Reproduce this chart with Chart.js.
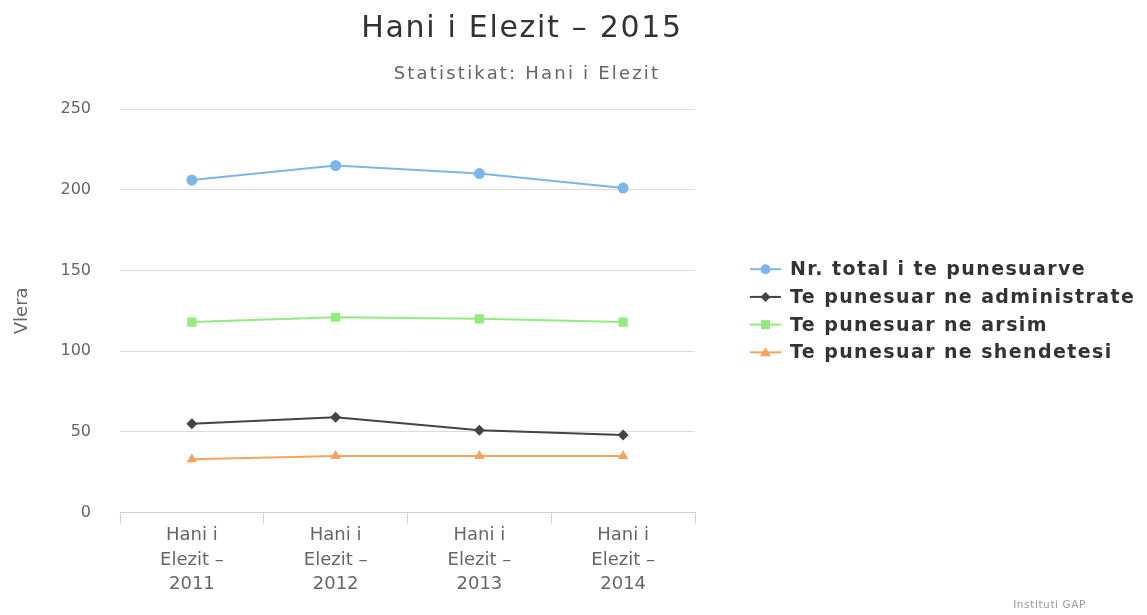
<!DOCTYPE html>
<html>
<head>
<meta charset="utf-8">
<title>Hani i Elezit - 2015</title>
<script src="https://cdn.jsdelivr.net/npm/chart.js@4"></script>
<style>
  html, body { margin: 0; padding: 0; background: #fff; }
  #wrap { width: 1147px; height: 615px; }
</style>
</head>
<body>
<div id="wrap"><canvas id="canvas" width="1147" height="615"></canvas></div>
<script>
// categories (x axis), one array of lines per tick
const categories = [
    ['Hani i', 'Elezit –', '2011'],
    ['Hani i', 'Elezit –', '2012'],
    ['Hani i', 'Elezit –', '2013'],
    ['Hani i', 'Elezit –', '2014']
];

// series values
const totalEmployed = [206, 215, 210, 201];
const adminEmployed = [55, 59, 51, 48];
const educationEmployed = [118, 121, 120, 118];
const healthEmployed = [33, 35, 35, 35];

const seriesNames = [
    'Nr. total i te punesuarve',
    'Te punesuar ne administrate',
    'Te punesuar ne arsim',
    'Te punesuar ne shendetesi'
];

const yTicks = [0, 50, 100, 150, 200, 250];

const titleText = 'Hani i Elezit – 2015';
const subtitleText = 'Statistikat: Hani i Elezit';
const creditText = 'Instituti GAP';

const FONT = '"DejaVu Sans", "Liberation Sans", sans-serif';

// marker shape, same look as the point styles of the datasets
function drawMarker(g, style, cx, cy, color) {
    g.fillStyle = color;
    g.beginPath();
    if (style === 'circle') {
        g.arc(cx, cy, 5, 0, Math.PI * 2);
    } else if (style === 'rectRot') {
        g.moveTo(cx, cy - 5); g.lineTo(cx + 5, cy); g.lineTo(cx, cy + 5); g.lineTo(cx - 5, cy);
    } else if (style === 'rect') {
        g.rect(cx - 4.5, cy - 4.5, 9, 9);
    } else {
        g.moveTo(cx, cy - 5); g.lineTo(cx + 5.5, cy + 4); g.lineTo(cx - 5.5, cy + 4);
    }
    g.closePath();
    g.fill();
}

// legend on the right, built from the datasets (the built-in one is limited in width)
const legendPlugin = {
    id: 'sideLegend',
    afterDraw(chart) {
        let ctx = chart.ctx;
        let area = chart.chartArea;
        let sets = chart.data.datasets;
        let step = 27.7;
        let y0 = (area.top + area.bottom) / 2 - step * (sets.length - 1) / 2;
        let x0 = area.right + 55;
        ctx.save();
        ctx.font = 'bold 19px ' + FONT;
        ctx.letterSpacing = '1.4px';
        ctx.textBaseline = 'middle';
        ctx.textAlign = 'left';
        sets.forEach((ds, i) => {
            let y = y0 + i * step;
            ctx.strokeStyle = ds.borderColor;
            ctx.lineWidth = 2;
            ctx.beginPath();
            ctx.moveTo(x0, y);
            ctx.lineTo(x0 + 31, y);
            ctx.stroke();
            drawMarker(ctx, ds.pointStyle, x0 + 15.5, y, ds.borderColor);
            ctx.fillStyle = '#333333';
            ctx.fillText(ds.label, x0 + 40, y + 1);
        });
        ctx.restore();
    }
};

// title, subtitle and credit text drawn on the canvas
const headerPlugin = {
    id: 'header',
    afterDraw(chart) {
        let ctx = chart.ctx;
        ctx.save();
        ctx.textAlign = 'center';
        ctx.textBaseline = 'middle';
        ctx.fillStyle = '#333333';
        ctx.font = '30px ' + FONT;
        ctx.letterSpacing = '1.7px';
        ctx.fillText(titleText, 522, 29);
        ctx.fillStyle = '#666666';
        ctx.font = '18px ' + FONT;
        ctx.letterSpacing = '2.2px';
        ctx.fillText(subtitleText, 527, 74);
        ctx.fillStyle = '#999999';
        ctx.font = '10.5px ' + FONT;
        ctx.letterSpacing = '0.6px';
        ctx.textAlign = 'right';
        ctx.fillText(creditText, 1086, 605);
        ctx.restore();
    }
};

const colors = ['#7cb5ec', '#434348', '#90ed7d', '#f7a35c'];
const styles = ['circle', 'rectRot', 'rect', 'triangle'];
const radii = [5.5, 5.5, 6.5, 6];
const values = [totalEmployed, adminEmployed, educationEmployed, healthEmployed];

let datasets = [];
for (let i = 0; i < values.length; i++) {
    datasets.push({
        label: seriesNames[i],
        data: values[i],
        borderColor: colors[i],
        backgroundColor: colors[i],
        borderWidth: 2,
        tension: 0,
        pointStyle: styles[i],
        pointRadius: radii[i],
        pointBackgroundColor: colors[i],
        pointBorderWidth: 0,
        fill: false
    });
}

let ctx = document.getElementById('canvas').getContext('2d');

let chart = new Chart(ctx, {
    type: 'line',
    data: {
        labels: categories,
        datasets: datasets
    },
    plugins: [legendPlugin, headerPlugin],
    options: {
        responsive: false,
        animation: false,
        devicePixelRatio: 1,
        layout: {
            padding: { top: 109, right: 452, bottom: 18, left: 12 }
        },
        plugins: {
            title: { display: false },
            tooltip: { enabled: false },
            legend: { display: false }
        },
        scales: {
            x: {
                offset: true,
                border: { display: true, color: '#ccd0d8', width: 1 },
                grid: {
                    offset: true,
                    drawOnChartArea: false,
                    drawTicks: true,
                    tickLength: 11,
                    color: '#ccd0d8'
                },
                ticks: {
                    autoSkip: false,
                    maxRotation: 0,
                    padding: 0,
                    color: '#666666',
                    font: { family: FONT, size: 18, lineHeight: 1.36 }
                }
            },
            y: {
                min: 0,
                max: 250,
                afterBuildTicks(axis) {
                    axis.ticks = yTicks.map(v => ({ value: v }));
                },
                afterFit(axis) {
                    axis.width = 108;
                },
                border: { display: false },
                grid: {
                    drawTicks: false,
                    color: '#dcdcdc',
                    lineWidth: 1
                },
                ticks: {
                    padding: 29,
                    color: '#666666',
                    font: { family: FONT, size: 16 }
                },
                title: {
                    display: true,
                    text: 'Vlera',
                    color: '#666666',
                    padding: { top: 0, bottom: 22 },
                    font: { family: FONT, size: 18 }
                }
            }
        }
    }
});
</script>
</body>
</html>
